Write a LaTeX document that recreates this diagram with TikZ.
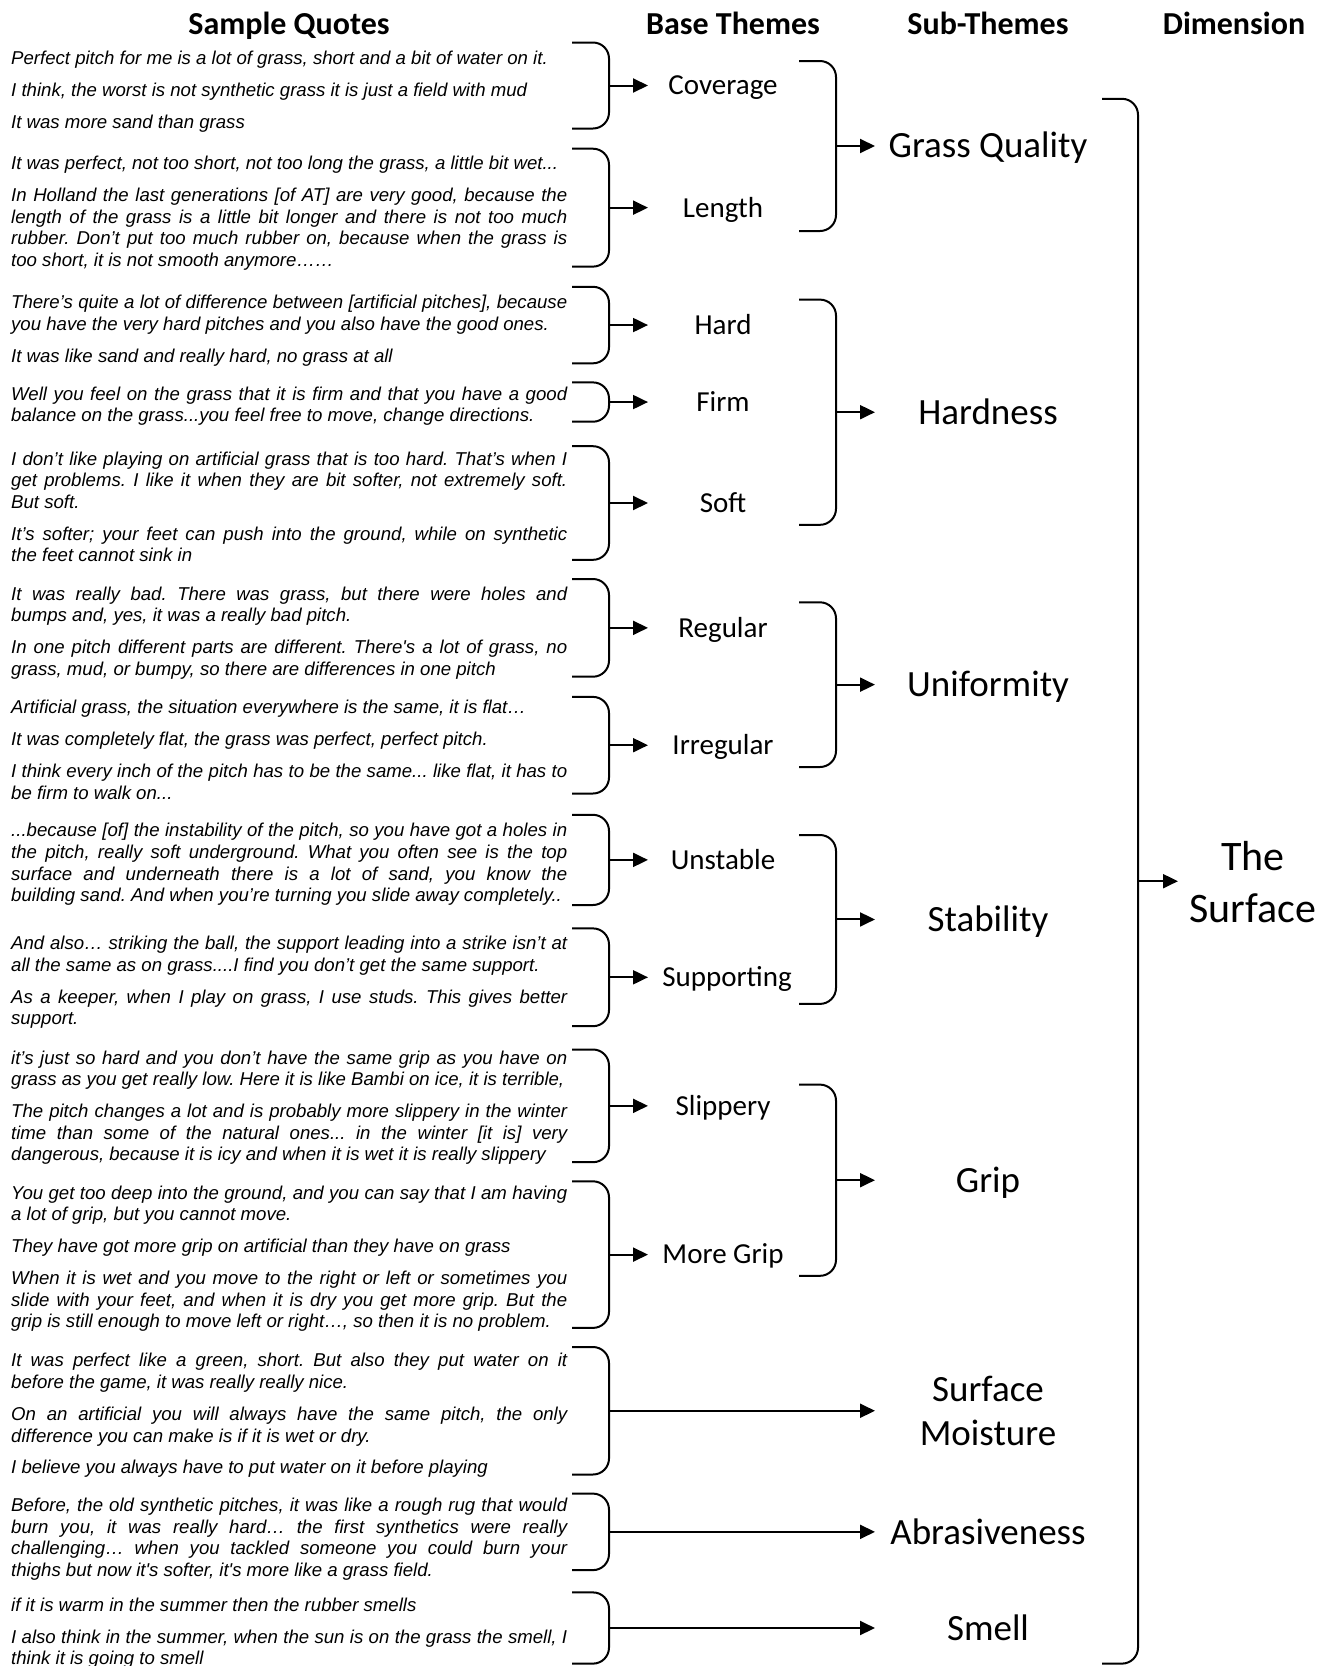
\documentclass[tikz,border=0pt]{standalone}
\usepackage{fontspec}
\setmainfont{Liberation Sans}
\newfontfamily\calfont{Carlito}
\usetikzlibrary{arrows.meta}
\frenchspacing
\newcommand\qsep{\par\vspace{10.3pt}}
\newcommand\qtext{\fontsize{18.6}{21.6}\selectfont\itshape\frenchspacing\tolerance=9999\hyphenpenalty=10000\emergencystretch=10pt\relax}
\newcommand\brarrow[6]{% name, x left, x vertical, top y, bottom y, tip x
  \coordinate (#1t) at (#2,#4);
  \coordinate (#1b) at (#2,#5);
  \coordinate (#1m) at (#3,{(#4+#5)/2});
  \coordinate (#1e) at (#6,{(#4+#5)/2});
  \draw[bracket] (#1t) -- (#3,#4) -- (#3,#5) -- (#1b);
  \draw[arr] (#1m) -- (#1e);
}
\tikzset{
  bracket/.style={line width=2pt, rounded corners=16pt},
  arr/.style={line width=2pt, -{Triangle[length=15pt,width=14pt]}},
  quote/.style={anchor=north west, inner sep=0pt, text width=556pt, align=justify, font=\qtext},
  head/.style={anchor=base, inner sep=0pt, font=\calfont\bfseries\fontsize{32}{38}\selectfont},
  basetheme/.style={anchor=base, inner sep=0pt, font=\calfont\fontsize{29}{35}\selectfont},
  subtheme/.style={anchor=base, inner sep=0pt, font=\calfont\fontsize{37}{44.6}\selectfont},
  subtheme2/.style={anchor=center, inner sep=0pt, align=center, font=\calfont\fontsize{37}{44.6}\selectfont},
  dimlabel/.style={anchor=center, inner sep=0pt, align=center, font=\calfont\fontsize{42}{52}\selectfont}
}
\begin{document}
\begin{tikzpicture}[x=1pt,y=-1pt]
\useasboundingbox (0,0) rectangle (1330,1666);
\fill[white] (0,0) rectangle (1330,1666);

% headers
\node[head] (hq) at (289,34) {Sample Quotes};
\node[head] (hb) at (733,34) {Base Themes};
\node[head] (hs) at (988,34) {Sub-Themes};
\node[head] (hd) at (1234,34) {Dimension};

% quotes
\node[quote] (q1) at (11,49.3) {\strut Perfect pitch for me is a lot of grass, short and a bit of water on it.\qsep I think, the worst is not synthetic grass it is just a field with mud\qsep It was more sand than grass};
\node[quote] (q2) at (11,154.4) {\strut It was perfect, not too short, not too long the grass, a little bit wet...\qsep In Holland the last generations [of AT] are very good, because the\linebreak length of the grass is a little bit longer and there is not too much\linebreak rubber. Don’t put too much rubber on, because when the grass is\linebreak too short, it is not smooth anymore……};
\node[quote] (q3) at (11,293.6) {\strut There’s quite a lot of difference between [artificial pitches], because\linebreak you have the very hard pitches and you also have the good ones.\qsep It was like sand and really hard, no grass at all};
\node[quote] (q4) at (11,385) {\strut Well you feel on the grass that it is firm and that you have a good\linebreak balance on the grass...you feel free to move, change directions.};
\node[quote] (q5) at (11,449.8) {\strut I don’t like playing on artificial grass that is too hard. That’s when I\linebreak get problems. I like it when they are bit softer, not extremely soft.\linebreak But soft.\qsep It’s softer; your feet can push into the ground, while on synthetic\linebreak the feet cannot sink in};
\node[quote] (q6) at (11,584.7) {\strut It was really bad. There was grass, but there were holes and\linebreak bumps and, yes, it was a really bad pitch.\qsep In one pitch different parts are different. There\textquotesingle s a lot of grass, no\linebreak grass, mud, or bumpy, so there are differences in one pitch};
\node[quote] (q7) at (11,698.3) {\strut Artificial grass, the situation everywhere is the same, it is flat…\qsep It was completely flat, the grass was perfect, perfect pitch.\qsep I think every inch of the pitch has to be the same... like flat, it has to\linebreak be firm to walk on...};
\node[quote] (q8) at (11,821.6) {\strut ...because [of] the instability of the pitch, so you have got a holes in\linebreak the pitch, really soft underground. What you often see is the top\linebreak surface and underneath there is a lot of sand, you know the\linebreak building sand. And when you’re turning you slide away completely..};
\node[quote] (q9) at (11,934.2) {\strut And also… striking the ball, the support leading into a strike isn’t at\linebreak all the same as on grass....I find you don’t get the same support.\qsep As a keeper, when I play on grass, I use studs. This gives better\linebreak support.};
\node[quote] (q10) at (11,1048.9) {\strut it’s just so hard and you don’t have the same grip as you have on\linebreak grass as you get really low. Here it is like Bambi on ice, it is terrible,\qsep The pitch changes a lot and is probably more slippery in the winter\linebreak time than some of the natural ones... in the winter [it is] very\linebreak dangerous, because it is icy and when it is wet it is really slippery};
\node[quote] (q11) at (11,1183.8) {\strut You get too deep into the ground, and you can say that I am having\linebreak a lot of grip, but you cannot move.\qsep They have got more grip on artificial than they have on grass\qsep When it is wet and you move to the right or left or sometimes you\linebreak slide with your feet, and when it is dry you get more grip. But the\linebreak grip is still enough to move left or right…, so then it is no problem.};
\node[quote] (q12) at (11,1351.6) {\strut It was perfect like a green, short. But also they put water on it\linebreak before the game, it was really really nice.\qsep On an artificial you will always have the same pitch, the only\linebreak difference you can make is if it is wet or dry.\qsep I believe you always have to put water on it before playing};
\node[quote] (q13) at (11,1496.1) {\strut Before, the old synthetic pitches, it was like a rough rug that would\linebreak burn you, it was really hard… the first synthetics were really\linebreak challenging… when you tackled someone you could burn your\linebreak thighs but now it\textquotesingle s softer, it\textquotesingle s more like a grass field.};
\node[quote] (q14) at (11,1596) {\strut if it is warm in the summer then the rubber smells\qsep I also think in the summer, when the sun is on the grass the smell, I\linebreak think it is going to smell};

% quote brackets
\brarrow{b1}{572}{609}{42.5}{128.5}{648}
\brarrow{b2}{572}{609}{148.7}{266.6}{648}
\brarrow{b3}{572}{609}{286.8}{363.3}{648}
\brarrow{b4}{572}{609}{382.4}{421.7}{648}
\brarrow{b5}{572}{609}{446.2}{559.8}{648}
\brarrow{b6}{572}{609}{579}{676.7}{648}
\brarrow{b7}{572}{609}{696.9}{793.5}{648}
\brarrow{b8}{572}{609}{814.8}{905}{648}
\brarrow{b9}{572}{609}{928.4}{1026.2}{648}
\brarrow{b10}{572}{609}{1049.5}{1162.2}{648}
\brarrow{b11}{572}{609}{1181.3}{1327.9}{648}
\brarrow{b12}{572}{609}{1347}{1474.5}{875}
\brarrow{b13}{572}{609}{1493.6}{1570.1}{875}
\brarrow{b14}{572}{609}{1592.4}{1663.6}{875}

% base themes
\node[basetheme] (coverage) at (723,94.8) {Coverage};
\node[basetheme] (length) at (723,217) {Length};
\node[basetheme] (hard) at (723,334.3) {Hard};
\node[basetheme] (firm) at (723,411.3) {Firm};
\node[basetheme] (soft) at (723,512.3) {Soft};
\node[basetheme] (regular) at (723,637.1) {Regular};
\node[basetheme] (irregular) at (723,754.3) {Irregular};
\node[basetheme] (unstable) at (723,869.3) {Unstable};
\node[basetheme] (supporting) at (727,986.6) {Supporting};
\node[basetheme] (slippery) at (723,1115.2) {Slippery};
\node[basetheme] (moregrip) at (723,1263.9) {More Grip};

% sub-theme brackets
\brarrow{s1}{799}{836}{61}{231}{875}
\brarrow{s2}{799}{836}{299.6}{524.8}{875}
\brarrow{s3}{799}{836}{602.3}{767}{875}
\brarrow{s4}{799}{836}{835}{1003.9}{875}
\brarrow{s5}{799}{836}{1084.6}{1275.8}{875}

% sub-themes
\node[subtheme] (grassq) at (988,157.8) {Grass Quality};
\node[subtheme] (hardness) at (988,424) {Hardness};
\node[subtheme] (uniform) at (988,696.4) {Uniformity};
\node[subtheme] (stability) at (988,931.2) {Stability};
\node[subtheme] (grip) at (988,1192) {Grip};
\node[subtheme2] (moisture) at (988,1414.7) {\strut Surface\\\strut Moisture};
\node[subtheme] (abras) at (988,1544.7) {Abrasiveness};
\node[subtheme] (smell) at (988,1640.3) {Smell};

% dimension bracket
\brarrow{d1}{1102}{1138}{98.8}{1663.6}{1178}
\node[dimlabel] (surface) at (1253,886.5) {\strut The\\\strut Surface};
\end{tikzpicture}
\end{document}
